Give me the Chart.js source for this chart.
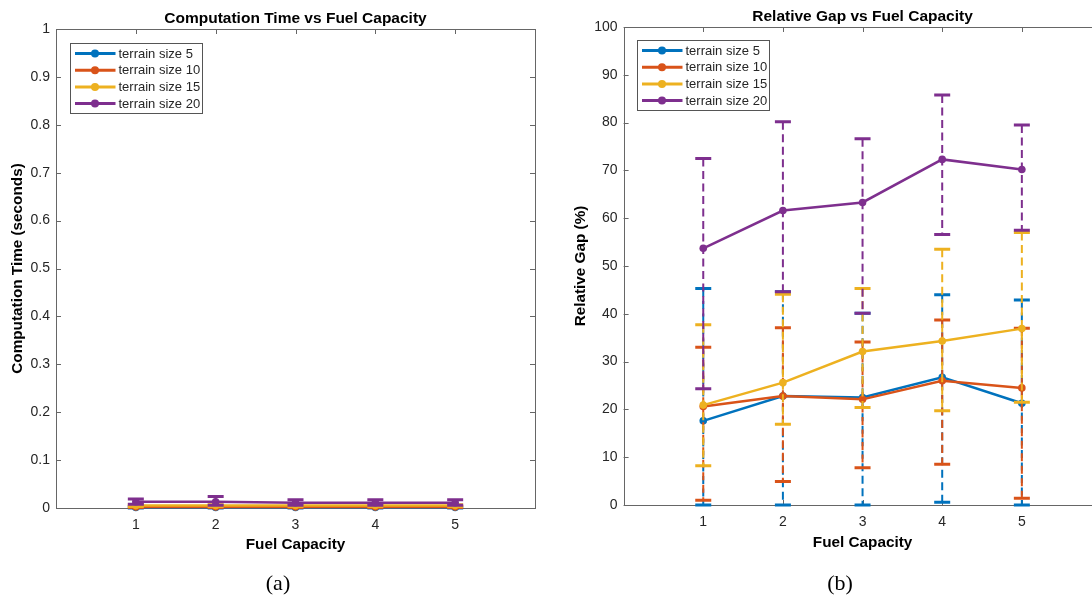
<!DOCTYPE html>
<html>
<head>
<meta charset="utf-8">
<script src="https://cdn.jsdelivr.net/npm/chart.js@4.4.1/dist/chart.umd.min.js"></script>
<style>
  html, body { margin: 0; padding: 0; background: #fff; }
  body { width: 1092px; height: 596px; overflow: hidden; position: relative; }
  canvas { position: absolute; top: 0; }
  #chartA { left: 0; }
  #chartB { left: 546px; }
  .cap { position: absolute; font-family: "Liberation Serif", "Times New Roman", serif; font-size: 22px; color: #000; transform: translate(-50%, -50%); }
</style>
</head>
<body>
<canvas id="chartA" width="546" height="596"></canvas>
<canvas id="chartB" width="570" height="596"></canvas>
<div class="cap" style="left:278px; top:583px;">(a)</div>
<div class="cap" style="left:840px; top:583px;">(b)</div>
<script>
const fuel = [1, 2, 3, 4, 5];
const seriesNames = ['terrain size 5', 'terrain size 10', 'terrain size 15', 'terrain size 20'];
const colors = ['#0072BD', '#D95319', '#EDB120', '#7E2F8E'];

// (a) computation time (seconds)
const time5 = [0.001, 0.001, 0.001, 0.001, 0.001];
const time5Low = [0.000, 0.000, 0.000, 0.000, 0.000];
const time5High = [0.002, 0.002, 0.002, 0.002, 0.002];
const time10 = [0.002, 0.002, 0.002, 0.002, 0.002];
const time10Low = [0.001, 0.001, 0.001, 0.001, 0.001];
const time10High = [0.003, 0.003, 0.003, 0.003, 0.003];
const time15 = [0.005, 0.005, 0.005, 0.005, 0.005];
const time15Low = [0.003, 0.003, 0.003, 0.003, 0.003];
const time15High = [0.007, 0.007, 0.007, 0.007, 0.007];
const time20 = [0.013, 0.013, 0.011, 0.011, 0.011];
const time20Low = [0.008, 0.006, 0.006, 0.006, 0.006];
const time20High = [0.019, 0.024, 0.017, 0.017, 0.017];

// (b) relative gap (%)
const gap5 = [17.6, 22.8, 22.5, 26.7, 21.3];
const gap5Low = [0, 0, 0, 0.6, 0];
const gap5High = [45.3, 44.6, 40.1, 44.0, 42.9];
const gap10 = [20.6, 22.8, 22.1, 26.0, 24.5];
const gap10Low = [1.0, 4.9, 7.8, 8.5, 1.4];
const gap10High = [33.0, 37.1, 34.1, 38.7, 37.0];
const gap15 = [20.9, 25.6, 32.1, 34.3, 36.9];
const gap15Low = [8.2, 16.9, 20.4, 19.7, 21.5];
const gap15High = [37.7, 44.1, 45.3, 53.5, 57.0];
const gap20 = [53.7, 61.6, 63.3, 72.3, 70.2];
const gap20Low = [24.3, 44.6, 40.1, 56.6, 57.5];
const gap20High = [72.5, 80.2, 76.6, 85.8, 79.5];

const FONT = '"Liberation Sans", Arial, sans-serif';
const axisColor = '#666666';
const textColor = '#262626';

function makeSets(means, lows, highs) {
  return means.map((m, k) => ({
    label: seriesNames[k],
    data: fuel.map((f, i) => ({x: f, y: m[i]})),
    errLow: lows[k],
    errHigh: highs[k],
    borderColor: colors[k],
    backgroundColor: colors[k],
    borderWidth: 2.5,
    pointRadius: 3.8,
    pointHoverRadius: 3.8,
    pointBorderWidth: 0,
    order: 4 - k,
    clip: false
  }));
}

// dashed vertical bars with solid caps, drawn with each series
const errorBars = {
  id: 'errorBars',
  beforeDatasetDraw(chart, args) {
    const ds = chart.data.datasets[args.index];
    const {ctx, scales: {x, y}} = chart;
    ctx.save();
    ctx.strokeStyle = ds.borderColor;
    ds.data.forEach((p, i) => {
      const px = x.getPixelForValue(p.x);
      const yl = y.getPixelForValue(ds.errLow[i]);
      const yh = y.getPixelForValue(ds.errHigh[i]);
      ctx.setLineDash([8, 4.5]);
      ctx.lineWidth = 2;
      ctx.beginPath();
      ctx.moveTo(px, yh);
      ctx.lineTo(px, yl);
      ctx.stroke();
      ctx.setLineDash([]);
      ctx.lineWidth = 3;
      ctx.beginPath();
      ctx.moveTo(px - 8, yl); ctx.lineTo(px + 8, yl);
      ctx.moveTo(px - 8, yh); ctx.lineTo(px + 8, yh);
      ctx.stroke();
    });
    ctx.restore();
  }
};

// box around the axes with inward ticks, like matlab
const axesBox = {
  id: 'axesBox',
  beforeDatasetsDraw(chart) {
    const {ctx, chartArea: a, scales: {x, y}} = chart;
    ctx.save();
    ctx.strokeStyle = axisColor;
    ctx.lineWidth = 1;
    ctx.strokeRect(Math.round(a.left) + 0.5, Math.round(a.top) + 0.5,
      Math.round(a.right - a.left), Math.round(a.bottom - a.top));
    ctx.beginPath();
    x.ticks.forEach(t => {
      const px = Math.round(x.getPixelForValue(t.value)) + 0.5;
      ctx.moveTo(px, a.bottom); ctx.lineTo(px, a.bottom - 5);
      ctx.moveTo(px, a.top); ctx.lineTo(px, a.top + 5);
    });
    y.ticks.forEach(t => {
      const py = Math.round(y.getPixelForValue(t.value)) + 0.5;
      ctx.moveTo(a.left, py); ctx.lineTo(a.left + 5, py);
      ctx.moveTo(a.right, py); ctx.lineTo(a.right - 5, py);
    });
    ctx.stroke();
    ctx.restore();
  },
  afterDraw(chart, args, opts) {
    const {ctx, chartArea: a} = chart;
    ctx.save();
    // title
    ctx.fillStyle = '#000';
    ctx.font = 'bold 15.5px ' + FONT;
    ctx.textAlign = 'center';
    ctx.textBaseline = 'middle';
    ctx.fillText(opts.title, (a.left + a.right) / 2, a.top - 10.5);
    // legend
    const bx = Math.round(a.left + opts.legendX) + 0.5;
    const by = Math.round(a.top + opts.legendY) + 0.5;
    ctx.fillStyle = '#fff';
    ctx.fillRect(bx, by, 132, 70);
    ctx.strokeStyle = '#555';
    ctx.lineWidth = 1;
    ctx.strokeRect(bx, by, 132, 70);
    ctx.font = '13px ' + FONT;
    ctx.textAlign = 'left';
    chart.data.datasets.forEach((ds, i) => {
      const yy = by + 10 + i * 16.7;
      ctx.strokeStyle = ds.borderColor;
      ctx.lineWidth = 3;
      ctx.beginPath();
      ctx.moveTo(bx + 4.5, yy); ctx.lineTo(bx + 45, yy);
      ctx.stroke();
      ctx.fillStyle = ds.borderColor;
      ctx.beginPath();
      ctx.arc(bx + 24.5, yy, 4, 0, Math.PI * 2);
      ctx.fill();
      ctx.fillStyle = textColor;
      ctx.fillText(ds.label, bx + 48, yy + 0.5);
    });
    ctx.restore();
  }
};

function makeChart(el, sets, opt) {
  return new Chart(el, {
    type: 'line',
    data: {datasets: sets},
    plugins: [errorBars, axesBox],
    options: {
      responsive: false,
      animation: false,
      devicePixelRatio: 1,
      events: [],
      layout: {padding: {left: 0, top: opt.top, right: opt.right, bottom: 0}},
      scales: {
        x: {
          type: 'linear', min: 0, max: 6,
          grid: {display: false, drawTicks: false},
          border: {display: false},
          afterBuildTicks: s => { s.ticks = fuel.map(v => ({value: v})); },
          afterFit: s => { s.height = opt.xHeight; },
          ticks: {padding: 8.5, color: textColor, font: {family: FONT, size: 14}},
          title: {display: true, text: 'Fuel Capacity', color: '#000',
            font: {family: FONT, size: 15.3, weight: 'bold'}, padding: {top: 0, bottom: opt.xTitlePad}}
        },
        y: {
          min: 0, max: opt.yMax,
          grid: {display: false, drawTicks: false},
          border: {display: false},
          afterFit: s => { s.width = opt.yWidth; },
          ticks: {stepSize: opt.yStep, padding: 6, color: textColor, font: {family: FONT, size: 14},
            callback: v => String(Math.round(v * 1000) / 1000)},
          title: {display: true, text: opt.yTitle, color: '#000',
            font: {family: FONT, size: 15.3, weight: 'bold'}, padding: {top: opt.yTitlePad, bottom: 0}}
        }
      },
      plugins: {
        legend: {display: false},
        tooltip: {enabled: false},
        axesBox: {title: opt.title, legendX: opt.legendX, legendY: opt.legendY}
      }
    }
  });
}

makeChart(document.getElementById('chartA'),
  makeSets([time5, time10, time15, time20], [time5Low, time10Low, time15Low, time20Low],
    [time5High, time10High, time15High, time20High]),
  {top: 29, right: 11, xHeight: 88, yWidth: 56, yMax: 1, yStep: 0.1,
   xTitlePad: 42, yTitlePad: 8.2, yTitle: 'Computation Time (seconds)',
   title: 'Computation Time vs Fuel Capacity', legendX: 14, legendY: 14});

makeChart(document.getElementById('chartB'),
  makeSets([gap5, gap10, gap15, gap20], [gap5Low, gap10Low, gap15Low, gap20Low],
    [gap5High, gap10High, gap15High, gap20High]),
  {top: 27, right: 14.5, xHeight: 91, yWidth: 77.6, yMax: 100, yStep: 10,
   xTitlePad: 44.5, yTitlePad: 25.6, yTitle: 'Relative Gap (%)',
   title: 'Relative Gap vs Fuel Capacity', legendX: 13.6, legendY: 12.6});
</script>
</body>
</html>
